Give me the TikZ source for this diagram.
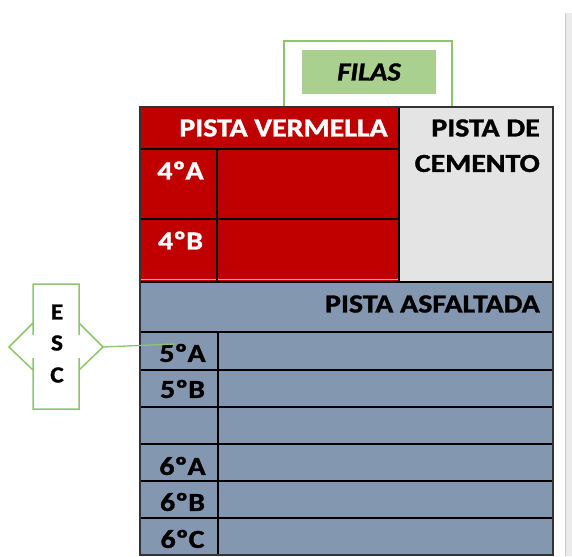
\documentclass[tikz,border=0pt]{standalone}
\usepackage{fontspec}
\setmainfont{Carlito}[BoldFeatures={FakeBold=1.2},BoldItalicFeatures={FakeBold=1.2}]
\definecolor{pistared}{HTML}{C00000}
\definecolor{pistagray}{HTML}{E4E4E4}
\definecolor{pistablue}{HTML}{8497B0}
\definecolor{greenfill}{HTML}{A9D08E}
\definecolor{greenline}{HTML}{8DC46E}
\definecolor{stripefill}{HTML}{EBEBEB}
\definecolor{stripeline}{HTML}{C8C8C8}
\definecolor{pinkline}{HTML}{E8A6A6}
\newcommand{\widetxt}[2][1.15]{\scalebox{#1}[1]{#2}}
\tikzset{
  grid/.style={draw=black, line width=1.2pt},
  outer/.style={draw=black!80, line width=1.6pt},
  bigtxt/.style={font=\fontsize{26}{28}\selectfont\bfseries, inner sep=0pt},
  smalltxt/.style={font=\fontsize{23}{25}\selectfont\bfseries, inner sep=0pt},
  greenbox/.style={draw=greenline, line width=1.5pt},
}
\begin{document}
\begin{tikzpicture}[x=1pt,y=-1pt]
\useasboundingbox (0,0) rectangle (572,556);
% right window stripe
\fill[stripefill] (565,13) rectangle (572,556);
\draw[stripeline, line width=1.2pt] (565.6,13) -- (565.6,556);
% FILAS box
\node[greenbox, fill=white, minimum width=168pt, minimum height=66pt, inner sep=0pt] (filasbox) at (368,74) {};
\node[fill=greenfill, minimum width=134pt, minimum height=44pt, inner sep=0pt,
      font=\fontsize{26}{28}\selectfont\bfseries\itshape] (filas) at (369,72) {\widetxt[1.1]{FILAS}};
% table fills
\fill[pistared] (140,107) rectangle (399,282);
\fill[pistagray] (399,107) rectangle (553,282);
\fill[pistablue] (140,282) rectangle (553,555);
% grid lines
\draw[pinkline, line width=1pt] (140,279.5) -- (399,279.5);
\draw[grid] (140,149) -- (399,149);
\draw[grid] (140,219) -- (399,219);
\draw[grid] (217,149) -- (217,282);
\draw[grid] (399,107) -- (399,282);
\draw[grid] (140,282) -- (553,282);
\foreach \yy in {332,370,407,444,481,518} {\draw[grid] (140,\yy) -- (553,\yy);}
\draw[grid] (218,332) -- (218,555);
\draw[outer] (140,107) rectangle (553,555);
% texts
\node[bigtxt, text=white] (pv) at (283.5,128) {\widetxt{PISTA VERMELLA}};
\node[bigtxt, anchor=east] (pd) at (540,128) {\widetxt{PISTA DE}};
\node[bigtxt, anchor=east] (pc) at (540,163.5) {\widetxt{CEMENTO}};
\node[bigtxt, text=white] (c4a) at (180.5,170.5) {\widetxt{4ºA}};
\node[bigtxt, text=white] (c4b) at (180.5,240.5) {\widetxt{4ºB}};
\node[bigtxt, anchor=east] (pa) at (540,304) {\widetxt{PISTA ASFALTADA}};
\node[bigtxt] (c5a) at (182.5,353) {\widetxt{5ºA}};
\node[bigtxt] (c5b) at (182.5,389) {\widetxt{5ºB}};
\node[bigtxt] (c6a) at (182.5,466) {\widetxt{6ºA}};
\node[bigtxt] (c6b) at (182.5,502) {\widetxt{6ºB}};
\node[bigtxt] (c6c) at (182.5,539) {\widetxt{6ºC}};
% ESC callout
\node[minimum width=46pt, minimum height=125pt, inner sep=0pt] (esc) at (56,346.5) {};
\draw[greenbox, line join=miter]
  (33,284) -- (79,284) -- (79,335) -- (79,323) -- (103,347) -- (79,370) -- (79,358)
  -- (79,409) -- (33,409) -- (33,358) -- (33,370) -- (9,347) -- (33,323) -- (33,335) -- cycle;
\node[smalltxt] (e) at (57,312) {\widetxt[1.1]{E}};
\node[smalltxt] (s) at (57,343) {\widetxt[1.1]{S}};
\node[smalltxt] (c) at (57,375) {\widetxt[1.1]{C}};
\coordinate (escR) at (103,347);
\coordinate (connend) at (175,344);
\draw[greenline, line width=1.3pt] (escR) -- (connend);
\end{tikzpicture}
\end{document}
